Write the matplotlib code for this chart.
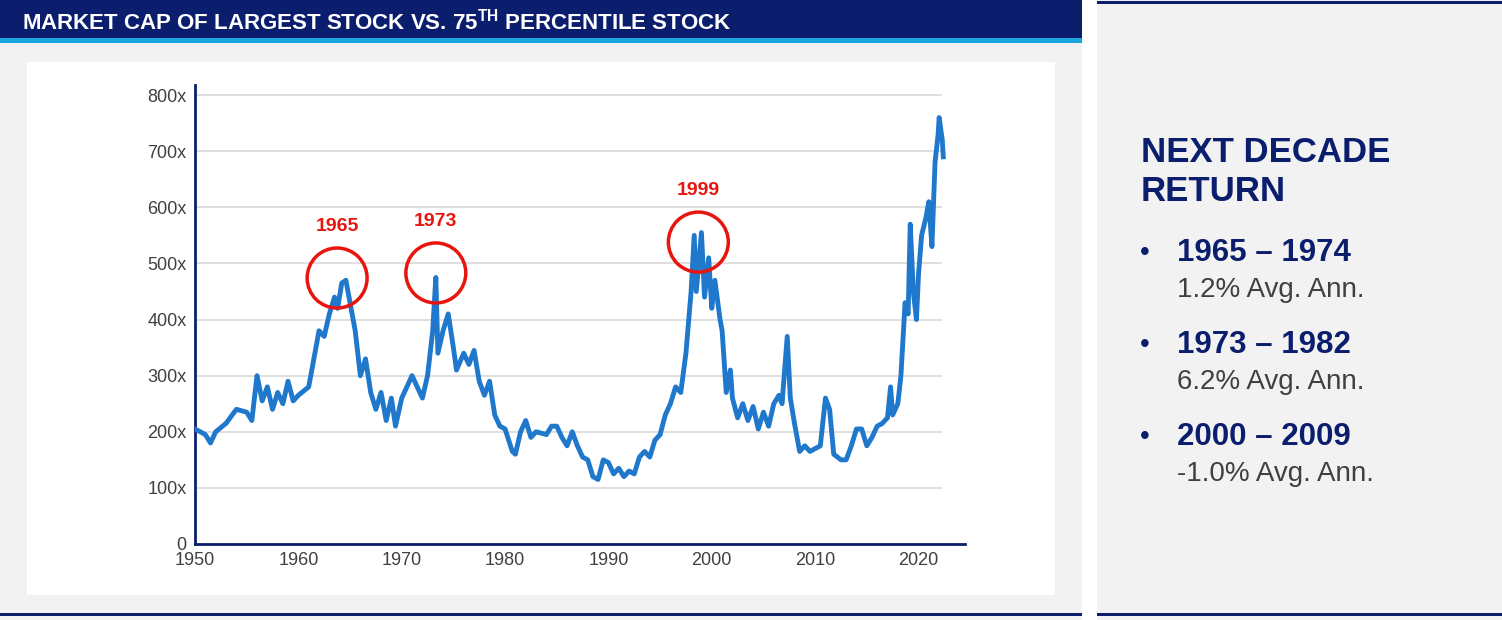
import matplotlib
matplotlib.use("Agg")
import matplotlib.pyplot as plt
from matplotlib.patches import Rectangle, Ellipse

plt.rcParams["font.family"] = ["Liberation Sans", "DejaVu Sans"]

NAVY = "#0b1e6e"
BLUE = "#1f78cc"
RED = "#e8150f"

years = [1950, 1951, 1951.5, 1952, 1953, 1954, 1955, 1955.5, 1956, 1956.5, 1957, 1957.5,
         1958, 1958.5, 1959, 1959.5, 1960, 1961, 1961.3, 1962, 1962.5, 1963, 1963.5, 1963.8,
         1964.2, 1964.6, 1965, 1965.5, 1966, 1966.5, 1967, 1967.5, 1968, 1968.5, 1969, 1969.4,
         1970, 1970.5, 1971, 1971.5, 1972, 1972.5, 1973, 1973.3, 1973.5, 1974, 1974.5, 1975,
         1975.3, 1976, 1976.5, 1977, 1977.5, 1978, 1978.5, 1979, 1979.5, 1980, 1980.7, 1981,
         1981.5, 1982, 1982.5, 1983, 1984, 1984.5, 1985, 1985.5, 1986, 1986.5, 1987, 1987.5,
         1988, 1988.5, 1989, 1989.5, 1990, 1990.5, 1991, 1991.5, 1992, 1992.5, 1993, 1993.5,
         1994, 1994.5, 1995, 1995.5, 1996, 1996.5, 1997, 1997.5, 1998, 1998.3, 1998.5, 1999,
         1999.3, 1999.7, 2000, 2000.3, 2000.8, 2001, 2001.4, 2001.8, 2002, 2002.5, 2003, 2003.5,
         2004, 2004.5, 2005, 2005.5, 2006, 2006.5, 2006.8, 2007.3, 2007.6, 2008, 2008.5, 2009,
         2009.5, 2010, 2010.5, 2011, 2011.4, 2011.8, 2012.5, 2013, 2013.5, 2014, 2014.5, 2015,
         2015.5, 2016, 2016.5, 2017, 2017.3, 2017.5, 2018, 2018.3, 2018.7, 2019, 2019.2, 2019.5,
         2019.8, 2020, 2020.3, 2020.7, 2021, 2021.3, 2021.6, 2021.9, 2022, 2022.3, 2022.4]
ratio = [205, 195, 180, 200, 215, 240, 235, 220, 300, 255, 280, 240,
         270, 250, 290, 255, 265, 280, 310, 380, 370, 410, 440, 420,
         465, 470, 430, 380, 300, 330, 270, 240, 270, 220, 260, 210,
         260, 280, 300, 280, 260, 300, 380, 475, 340, 380, 410, 350,
         310, 340, 320, 345, 290, 265, 290, 230, 210, 205, 165, 160,
         200, 220, 190, 200, 195, 210, 210, 190, 175, 200, 175, 155,
         150, 120, 115, 150, 145, 125, 135, 120, 130, 125, 155, 165,
         155, 185, 195, 230, 250, 280, 270, 340, 450, 550, 450, 555,
         440, 510, 420, 470, 400, 380, 270, 310, 260, 225, 250, 220,
         245, 205, 235, 210, 250, 265, 250, 370, 260, 215, 165, 175,
         165, 170, 175, 260, 240, 160, 150, 150, 175, 205, 205, 175,
         190, 210, 215, 225, 280, 230, 250, 300, 430, 410, 570, 450,
         400, 480, 550, 580, 610, 530, 680, 730, 760, 720, 690]

peak_labels = ["1965", "1973", "1999"]
peak_x = [1963.75, 1973.3, 1998.7]
peak_y = [474, 483, 538]

items = ["1965 \u2013 1974", "1973 \u2013 1982", "2000 \u2013 2009"]
returns = ["1.2% Avg. Ann.", "6.2% Avg. Ann.", "-1.0% Avg. Ann."]

W, H = 1502, 620
fig = plt.figure(figsize=(W / 100, H / 100), dpi=100)
fig.patch.set_facecolor("white")


def px_rect(x, y, w, h, color):
    fig.add_artist(Rectangle((x / W, 1 - (y + h) / H), w / W, h / H,
                             transform=fig.transFigure, color=color, lw=0, zorder=-10))


# backgrounds and bars
px_rect(0, 0, 1082, 620, "#f2f2f2")
px_rect(1097, 0, 405, 620, "#f2f2f2")
px_rect(0, 0, 1082, 38, NAVY)
px_rect(0, 38, 1082, 5, "#1aa6dc")
px_rect(0, 613, 1082, 3, NAVY)
px_rect(1097, 1, 405, 3, NAVY)
px_rect(1097, 613, 405, 3, NAVY)
px_rect(27, 62, 1028, 533, "white")

fig.text(22 / W, 1 - 22 / H, "MARKET CAP OF LARGEST STOCK VS. 75$^{\\mathregular{TH}}$ PERCENTILE STOCK",
         color="white", fontsize=16, fontweight="bold", va="center")

# chart
ax = fig.add_axes([195 / W, 1 - 544 / H, 770 / W, 459 / H])
ax.set_facecolor("none")
ax.set_xlim(1950, 2024.5)
ax.set_ylim(0, 818)
for v in range(100, 900, 100):
    ax.hlines(v, 1950, 2022.3, color="#d9d9d9", lw=1.2, zorder=1)
ax.plot(years, ratio, color=BLUE, lw=3.5, solid_joinstyle="round", zorder=3)
ax.set_yticks(range(0, 900, 100))
ax.set_yticklabels(["0"] + [f"{v}x" for v in range(100, 900, 100)])
ax.set_xticks(range(1950, 2030, 10))
for s in ["top", "right"]:
    ax.spines[s].set_visible(False)
for s in ["left", "bottom"]:
    ax.spines[s].set_color(NAVY)
    ax.spines[s].set_linewidth(2)
ax.tick_params(length=0, labelsize=13, colors="#404040", pad=6)

for lab, x, y in zip(peak_labels, peak_x, peak_y):
    ax.add_patch(Ellipse((x, y), 5.8, 107, fill=False, ec=RED, lw=2.5, zorder=4))
    ax.text(x, y + 92, lab, color=RED, fontsize=14, fontweight="bold", ha="center", va="center")

# side panel
fig.text(1141 / W, 1 - 172 / H, "NEXT DECADE\nRETURN", color=NAVY, fontsize=25,
         fontweight="bold", va="center", linespacing=1.2)
for i, (it, r) in enumerate(zip(items, returns)):
    y = 253 + 92 * i
    fig.text(1140 / W, 1 - y / H, "\u2022", color=NAVY, fontsize=20, va="center")
    fig.text(1177 / W, 1 - y / H, it, color=NAVY, fontsize=22.5, fontweight="bold", va="center")
    fig.text(1177 / W, 1 - (y + 37) / H, r, color="#404040", fontsize=20, va="center")

fig.savefig("out.png", dpi=100, facecolor=fig.get_facecolor())
